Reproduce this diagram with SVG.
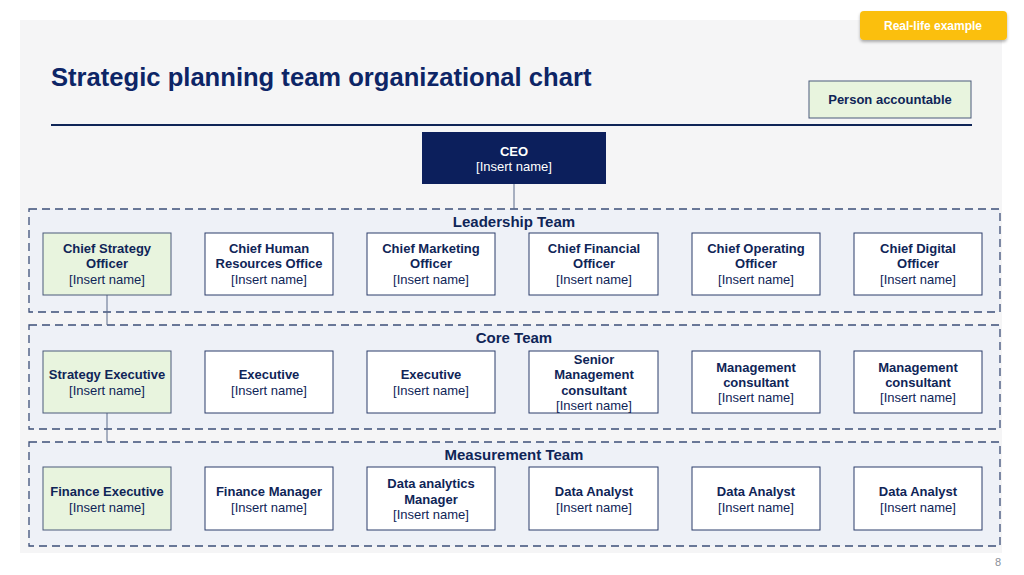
<svg xmlns="http://www.w3.org/2000/svg" width="1024" height="575" viewBox="0 0 1024 575">
<defs>
<filter id="sh" x="-10%" y="-20%" width="120%" height="160%"><feDropShadow dx="0" dy="2" stdDeviation="1.5" flood-opacity="0.3"/></filter>
</defs>
<style>
text{font-family:"Liberation Sans",Arial,sans-serif;fill:#0f2557;text-anchor:middle}
.b{font-weight:bold;font-size:13px}
.n{font-size:13px}
.team{fill:#eef1f7;stroke:#3d4f78;stroke-width:1.3;stroke-dasharray:8,5}
.tt{font-weight:bold;font-size:15px}
.box{fill:#fff;stroke:#2b3d6b;stroke-width:1}
.acc{fill:#e8f4de;stroke:#4a5a7a;stroke-width:1}
.c{stroke:#5a6a8a;stroke-width:1;fill:none}
</style>
<rect width="1024" height="575" fill="#fff"/>
<rect x="20" y="20" width="982" height="533" fill="#f5f5f6"/>
<g id="badge"><rect x="860" y="11" width="147" height="29" rx="4" fill="#fbbf0a" filter="url(#sh)"/><text x="933" y="30" style="fill:#fff;font-weight:bold;font-size:12px">Real-life example</text></g>
<text x="51" y="86" style="text-anchor:start;font-weight:bold;font-size:25.6px;fill:#0d2566">Strategic planning team organizational chart</text>
<line x1="51" y1="125" x2="972" y2="125" stroke="#0f2557" stroke-width="2"/>
<g id="legend"><rect x="809" y="81" width="162" height="37" class="acc"/><text x="890" y="104" class="b">Person accountable</text></g>
<g id="teams">
<rect x="29" y="209" width="971" height="103" class="team"/><text x="514" y="227" class="tt">Leadership Team</text>
<rect x="29" y="325" width="971" height="104" class="team"/><text x="514" y="343" class="tt">Core Team</text>
<rect x="29" y="442" width="971" height="104" class="team"/><text x="514" y="460" class="tt">Measurement Team</text>
</g>
<g id="connectors">
<line x1="514" y1="184" x2="514" y2="209" class="c"/>
<line x1="107" y1="295" x2="107" y2="325" class="c"/>
<line x1="107" y1="413" x2="107" y2="442" class="c"/>
</g>
<g id="ceo"><rect x="422" y="132" width="184" height="52" fill="#0c1f5c"/><text x="514" y="156" class="b" style="fill:#fff">CEO</text><text x="514" y="171" class="n" style="fill:#fff">[Insert name]</text></g>
<g id="cso"><rect x="43" y="233" width="128" height="62" class="acc"/><text x="107" y="253" class="b">Chief Strategy</text><text x="107" y="268" class="b">Officer</text><text x="107" y="284" class="n">[Insert name]</text></g>
<g id="chro"><rect x="205" y="233" width="128" height="62" class="box"/><text x="269" y="253" class="b">Chief Human</text><text x="269" y="268" class="b">Resources Office</text><text x="269" y="284" class="n">[Insert name]</text></g>
<g id="cmo"><rect x="367" y="233" width="128" height="62" class="box"/><text x="431" y="253" class="b">Chief Marketing</text><text x="431" y="268" class="b">Officer</text><text x="431" y="284" class="n">[Insert name]</text></g>
<g id="cfo"><rect x="529" y="233" width="129" height="62" class="box"/><text x="594" y="253" class="b">Chief Financial</text><text x="594" y="268" class="b">Officer</text><text x="594" y="284" class="n">[Insert name]</text></g>
<g id="coo"><rect x="692" y="233" width="128" height="62" class="box"/><text x="756" y="253" class="b">Chief Operating</text><text x="756" y="268" class="b">Officer</text><text x="756" y="284" class="n">[Insert name]</text></g>
<g id="cdo"><rect x="854" y="233" width="128" height="62" class="box"/><text x="918" y="253" class="b">Chief Digital</text><text x="918" y="268" class="b">Officer</text><text x="918" y="284" class="n">[Insert name]</text></g>
<g id="se"><rect x="43" y="351" width="128" height="62" class="acc"/><text x="107" y="379" class="b">Strategy Executive</text><text x="107" y="395" class="n">[Insert name]</text></g>
<g id="ex1"><rect x="205" y="351" width="128" height="62" class="box"/><text x="269" y="379" class="b">Executive</text><text x="269" y="395" class="n">[Insert name]</text></g>
<g id="ex2"><rect x="367" y="351" width="128" height="62" class="box"/><text x="431" y="379" class="b">Executive</text><text x="431" y="395" class="n">[Insert name]</text></g>
<g id="smc"><rect x="529" y="351" width="129" height="62" class="box"/><text x="594" y="364" class="b">Senior</text><text x="594" y="379" class="b">Management</text><text x="594" y="395" class="b">consultant</text><text x="594" y="410" class="n">[Insert name]</text></g>
<g id="mc1"><rect x="692" y="351" width="128" height="62" class="box"/><text x="756" y="372" class="b">Management</text><text x="756" y="387" class="b">consultant</text><text x="756" y="402" class="n">[Insert name]</text></g>
<g id="mc2"><rect x="854" y="351" width="128" height="62" class="box"/><text x="918" y="372" class="b">Management</text><text x="918" y="387" class="b">consultant</text><text x="918" y="402" class="n">[Insert name]</text></g>
<g id="fe"><rect x="43" y="467" width="128" height="63" class="acc"/><text x="107" y="496" class="b">Finance Executive</text><text x="107" y="512" class="n">[Insert name]</text></g>
<g id="fm"><rect x="205" y="467" width="128" height="63" class="box"/><text x="269" y="496" class="b">Finance Manager</text><text x="269" y="512" class="n">[Insert name]</text></g>
<g id="dam"><rect x="367" y="467" width="128" height="63" class="box"/><text x="431" y="488" class="b">Data analytics</text><text x="431" y="504" class="b">Manager</text><text x="431" y="519" class="n">[Insert name]</text></g>
<g id="da1"><rect x="529" y="467" width="129" height="63" class="box"/><text x="594" y="496" class="b">Data Analyst</text><text x="594" y="512" class="n">[Insert name]</text></g>
<g id="da2"><rect x="692" y="467" width="128" height="63" class="box"/><text x="756" y="496" class="b">Data Analyst</text><text x="756" y="512" class="n">[Insert name]</text></g>
<g id="da3"><rect x="854" y="467" width="128" height="63" class="box"/><text x="918" y="496" class="b">Data Analyst</text><text x="918" y="512" class="n">[Insert name]</text></g>
<text x="998" y="566" style="font-size:11px;fill:#8a8f99">8</text>
</svg>
